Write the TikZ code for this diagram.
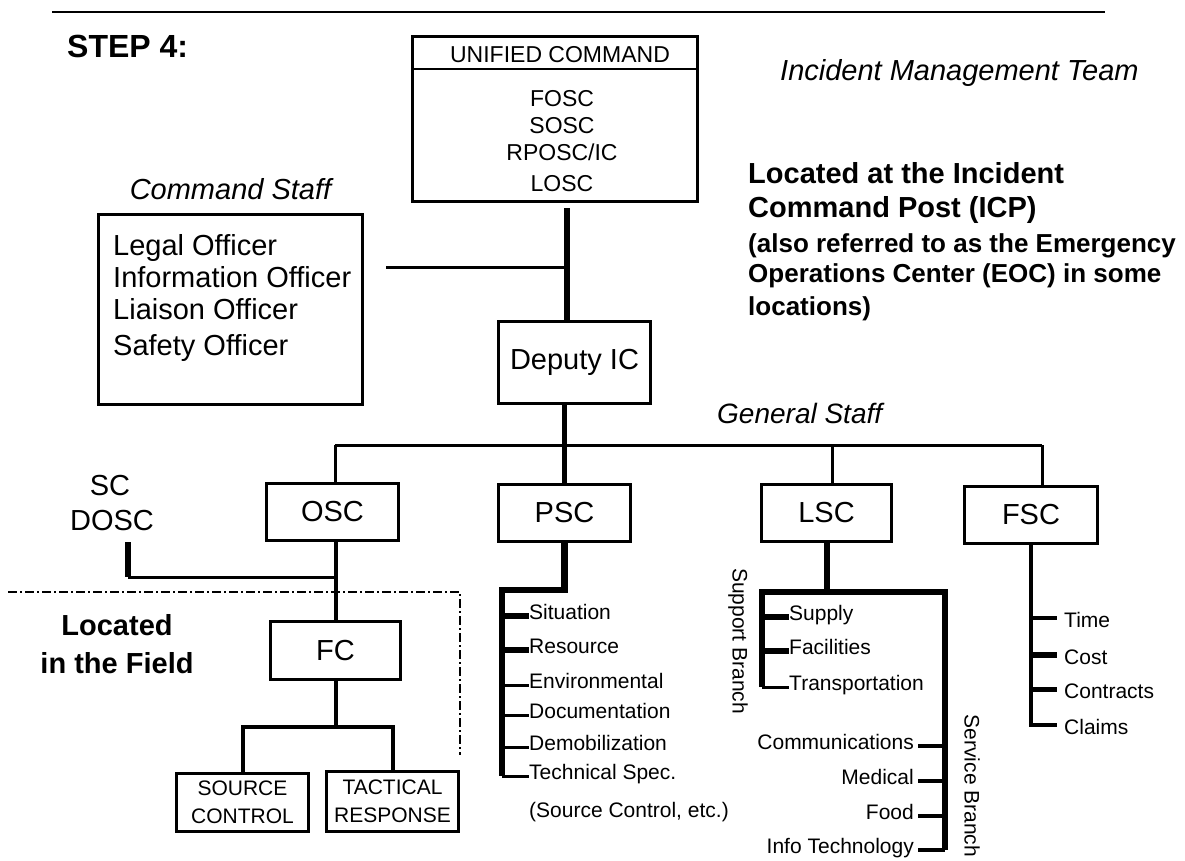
\documentclass[tikz,border=0pt]{standalone}
\usepackage{fontspec}
\setmainfont{Liberation Sans}
\usetikzlibrary{positioning}

\begin{document}
\begin{tikzpicture}[
    x=1pt, y=-1pt,
    % Box styles
    orgbox/.style={rectangle, draw=black, line width=3pt, inner sep=0pt,
        minimum width=132pt, minimum height=57pt, font=\fontsize{29}{34}\selectfont},
    fieldbox/.style={orgbox, align=center, minimum height=58pt,
        font=\fontsize{21}{28}\selectfont},
    % Text styles
    labeltext/.style={inner sep=0pt, font=\fontsize{29}{34}\selectfont},
    uctext/.style={inner sep=0pt, anchor=base, font=\fontsize{23}{28}\selectfont},
    itemtext/.style={inner sep=0pt, font=\fontsize{21}{25}\selectfont},
    listitem/.style={itemtext, text height=15pt, text depth=9pt},
    finitem/.style={itemtext, anchor=west, text height=18pt, text depth=0pt},
    notetext/.style={inner sep=0pt, anchor=base west, font=\fontsize{29}{34}\selectfont\bfseries},
    % Connector styles
    thinlink/.style={line width=3pt},
    midlink/.style={line width=4pt},
    thicklink/.style={line width=5.5pt},
    fieldline/.style={line width=1.5pt, dash pattern=on 9pt off 3pt on 2pt off 3pt},
]

\useasboundingbox (0,0) rectangle (1185,860);

% ============ Title ============
\coordinate (ruleL) at (52,12);
\coordinate (ruleR) at (1105,12);
\draw[line width=2pt] (ruleL) -- (ruleR);
\node[notetext, font=\fontsize{32}{38}\selectfont\bfseries] (stepfour) at (67,57) {STEP 4:};

% ============ Unified Command ============
\node[orgbox, minimum width=285pt, minimum height=165pt] (uc) at (555,119) {};
\draw[line width=2pt] ([yshift=-34pt]uc.north west) -- ([yshift=-34pt]uc.north east);
\node[uctext] (uchead) at (560,62) {UNIFIED COMMAND};
\node[uctext] (fosc) at (562,106) {FOSC};
\node[uctext] (sosc) at (562,133) {SOSC};
\node[uctext] (rposc) at (562,160) {RPOSC/IC};
\node[uctext] (losc) at (562,191) {LOSC};

\node[labeltext, anchor=base west, font=\fontsize{29}{34}\selectfont\itshape] (imt) at (780,80) {Incident Management Team};

\node[notetext] (icp1) at (748,183) {Located at the Incident};
\node[notetext] (icp2) at (748,217) {Command Post (ICP)};
\node[notetext, font=\fontsize{26}{31}\selectfont\bfseries] (eoc1) at (748,252) {(also referred to as the Emergency};
\node[notetext, font=\fontsize{26}{31}\selectfont\bfseries] (eoc2) at (748,282) {Operations Center (EOC) in some};
\node[notetext, font=\fontsize{26}{31}\selectfont\bfseries] (eoc3) at (748,315) {locations)};

% ============ Command Staff ============
\node[orgbox, minimum width=264pt, minimum height=190pt] (cstaff) at (230.5,309.5) {};
\node[labeltext, font=\fontsize{29}{34}\selectfont\itshape, above=13pt of cstaff] (cstafflabel) {Command Staff};
\node[labeltext, anchor=base west] (legal) at (113,255) {Legal Officer};
\node[labeltext, anchor=base west] (info) at (113,287) {Information Officer};
\node[labeltext, anchor=base west] (liaison) at (113,319) {Liaison Officer};
\node[labeltext, anchor=base west] (safety) at (113,355) {Safety Officer};

% ============ Deputy IC ============
\node[orgbox, minimum width=152pt, minimum height=82pt] (dep) at (574.5,362.5) {Deputy IC};
\coordinate (spine) at (567,208);
\coordinate (csend) at (386,267);
\draw[thicklink, line width=6pt] (spine) -- (spine |- dep.north);
\draw[thinlink] (csend) -- (csend -| spine);

% ============ General Staff ============
\node[labeltext, anchor=base west, font=\fontsize{28}{34}\selectfont\itshape] (gstaff) at (717,423) {General Staff};
\coordinate (gsl) at (335,445);
\coordinate (gsr) at (1042,445);
\coordinate (lscdrop) at (832,445);
\draw[thinlink] (gsl) -- (gsr);

\node[orgbox] (osc) at (332.5,512) {OSC};
\node[orgbox] (psc) at (564.5,513) {PSC};
\node[orgbox, minimum width=130pt] (lsc) at (826.5,513) {LSC};
\node[orgbox, minimum width=133pt] (fsc) at (1031,515) {FSC};

\draw[thinlink] (gsl) -- (gsl |- osc.north);
\draw[thicklink] (psc.north |- dep.south) -- (psc.north);
\draw[thinlink] (lscdrop) -- (lscdrop |- lsc.north);
\draw[thinlink] (gsr) -- (gsr |- fsc.north);

% ============ Operations ============
\node[labeltext, anchor=base] (sc) at (110,495) {SC};
\node[labeltext, anchor=base] (dosc) at (112,530) {DOSC};
\coordinate (doscend) at (128,542);
\coordinate (oscjunc) at (335.5,577);
\draw[thicklink] (doscend) -- (doscend |- oscjunc);
\draw[thinlink] (doscend |- oscjunc) -- (oscjunc);

\node[orgbox, minimum width=130pt, minimum height=58pt] (fc) at (335.5,650.5) {FC};
\draw[midlink] (osc.south -| fc.north) -- (fc.north);

\node[fieldbox] (src) at (242.5,802.5) {SOURCE\\CONTROL};
\node[fieldbox, minimum height=60pt] (tac) at (392.5,801.5) {TACTICAL\\RESPONSE};
\coordinate (fcbar) at (335.5,727);
\draw[midlink] (fc.south) -- (fcbar);
\draw[midlink] (src.north) -- (src.north |- fcbar) -- (tac.north |- fcbar) -- (tac.north);

% Field area
\coordinate (fieldA) at (8,592);
\coordinate (fieldB) at (460,592);
\coordinate (fieldC) at (460,755);
\draw[fieldline] (fieldA) -- (fieldB) -- (fieldC);
\node[notetext, anchor=base] (field1) at (117,635) {Located};
\node[notetext, anchor=base] (field2) at (117,673) {in the Field};

% ============ Planning ============
\coordinate (pbar) at (502,590);
\node[listitem, anchor=west] (sit) at (529,616) {Situation};
\node[listitem, anchor=west] (res) at (529,650) {Resource};
\node[listitem, anchor=west] (env) at (529,685) {Environmental};
\node[listitem, anchor=west] (docu) at (529,715) {Documentation};
\node[listitem, anchor=west] (demob) at (529,747) {Demobilization};
\node[listitem, anchor=west] (tech) at (529,776) {Technical Spec.};
\node[itemtext, anchor=base west] (srcnote) at (529,817) {(Source Control, etc.)};

\draw[thicklink, line width=6.5pt] (psc.south) -- (psc.south |- pbar) -- (pbar) -- (pbar |- tech.west);
\draw[thicklink] (pbar |- sit.west) -- (sit.west);
\draw[thicklink] (pbar |- res.west) -- (res.west);
\draw[thinlink] (pbar |- env.west) -- (env.west);
\draw[thinlink] (pbar |- docu.west) -- (docu.west);
\draw[thinlink] (pbar |- demob.west) -- (demob.west);
\draw[thinlink] (pbar |- tech.west) -- (tech.west);

% ============ Logistics ============
\coordinate (lbar) at (762,592);
\coordinate (rbar) at (945,592);
\node[itemtext, rotate=-90] (support) at (738,641) {Support Branch};
\node[itemtext, rotate=-90] (service) at (972,786) {Service Branch};

\node[listitem, anchor=west] (supply) at (789,617) {Supply};
\node[listitem, anchor=west] (facil) at (789,651) {Facilities};
\node[listitem, anchor=west] (trans) at (789,687) {Transportation};

\node[listitem, anchor=east] (comm) at (914,746) {Communications};
\node[listitem, anchor=east] (med) at (914,781) {Medical};
\node[listitem, anchor=east] (food) at (914,816) {Food};
\node[listitem, anchor=east] (infotech) at (914,850) {Info Technology};

\draw[thicklink, line width=6pt] (lsc.south) -- (lsc.south |- lbar);
\draw[thicklink] (trans.west -| lbar) -- (lbar) -- (rbar) -- (infotech.east -| rbar);
\draw[thicklink] (lbar |- supply.west) -- (supply.west);
\draw[thicklink] (lbar |- facil.west) -- (facil.west);
\draw[thinlink] (lbar |- trans.west) -- (trans.west);
\draw[thinlink, line width=3.5pt] ([xshift=4pt]comm.east) -- (comm.east -| rbar);
\draw[thinlink, line width=3.5pt] ([xshift=4pt]med.east) -- (med.east -| rbar);
\draw[thinlink, line width=3.5pt] ([xshift=4pt]food.east) -- (food.east -| rbar);
\draw[thinlink, line width=3.5pt] ([xshift=4pt]infotech.east) -- (infotech.east -| rbar);

% ============ Finance ============
\node[finitem] (time) at (1064,618) {Time};
\node[finitem] (cost) at (1064,655) {Cost};
\node[finitem] (contracts) at (1064,689) {Contracts};
\node[finitem] (claims) at (1064,725) {Claims};

\draw[midlink] (fsc.south) -- (fsc.south |- claims.west) -- ([xshift=-7pt]claims.west);
\draw[midlink] (fsc.south |- time.west) -- ([xshift=-7pt]time.west);
\draw[thicklink, line width=6pt] (fsc.south |- cost.west) -- ([xshift=-7pt]cost.west);
\draw[thicklink, line width=5pt] (fsc.south |- contracts.west) -- ([xshift=-7pt]contracts.west);

\end{tikzpicture}
\end{document}
